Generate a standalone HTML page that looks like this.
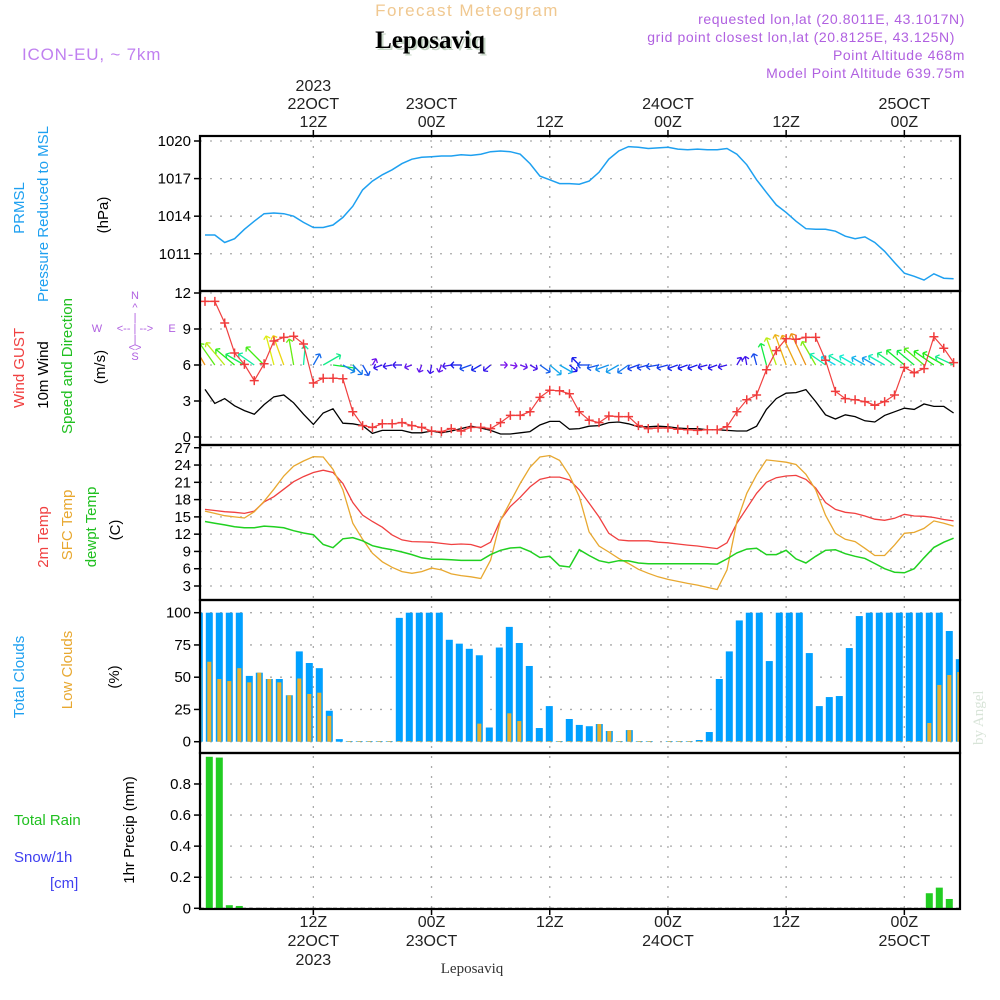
<!DOCTYPE html>
<html><head><meta charset="utf-8"><title>Forecast Meteogram - Leposaviq</title>
<style>
html,body{margin:0;padding:0;background:#fff;}
svg{display:block;}
text{font-family:"Liberation Sans",sans-serif;}
</style></head>
<body>
<svg id="chart" width="1000" height="1000" viewBox="0 0 1000 1000" xmlns="http://www.w3.org/2000/svg">
<rect x="0" y="0" width="1000" height="1000" fill="#fff"/>
<text x="467" y="16" text-anchor="middle" font-size="17" fill="#f0c890" letter-spacing="1.5">Forecast Meteogram</text>
<text x="432" y="50" text-anchor="middle" font-size="25" font-weight="bold" fill="#c8d8c8" style="font-family:'Liberation Serif',serif">Leposaviq</text>
<text x="430" y="48" text-anchor="middle" font-size="25" font-weight="bold" fill="#000" style="font-family:'Liberation Serif',serif">Leposaviq</text>
<text x="22" y="60" font-size="17" fill="#c080f0" letter-spacing="0.8">ICON-EU, ~ 7km</text>
<g font-size="14" fill="#b060e0" text-anchor="end" letter-spacing="0.6">
<text x="965" y="24">requested lon,lat (20.8011E, 43.1017N)</text>
<text x="955" y="42">grid point closest lon,lat (20.8125E, 43.125N)</text>
<text x="965" y="60">Point Altitude 468m</text>
<text x="965" y="78">Model Point Altitude 639.75m</text>
</g>
<g id="plot"></g>
<g id="labels"></g>
<text transform="translate(983,745) rotate(-90)" font-size="15" fill="#d8e4d8" style="font-family:'Liberation Serif',serif">by Angel</text>
<text x="472" y="973" text-anchor="middle" font-size="15" fill="#333" style="font-family:'Liberation Serif',serif">Leposaviq</text>
</svg>
<script>
const hours = Array.from({length:77},(_,i)=>i+1);
const pressure = [1012.5,1012.5,1011.9,1012.2,1012.95,1013.6,1014.2,1014.25,1014.2,1014.0,1013.5,1013.1,1013.1,1013.3,1013.9,1014.8,1016.1,1016.8,1017.3,1017.7,1018.2,1018.55,1018.7,1018.75,1018.8,1018.8,1018.9,1018.85,1018.95,1019.15,1019.2,1019.15,1018.95,1018.2,1017.2,1016.9,1016.6,1016.6,1016.55,1016.8,1017.5,1018.55,1019.2,1019.55,1019.5,1019.4,1019.45,1019.5,1019.35,1019.3,1019.35,1019.3,1019.3,1019.4,1018.95,1018.1,1016.9,1015.9,1014.9,1014.3,1013.6,1013.0,1012.95,1012.95,1012.8,1012.4,1012.2,1012.35,1011.9,1011.2,1010.3,1009.45,1009.2,1008.9,1009.4,1009.05,1009.0];
const gust = [11.3,11.3,9.5,7.0,6.05,4.7,6.1,8.0,8.3,8.4,7.75,4.5,4.9,4.9,4.85,2.1,0.95,0.8,1.1,1.1,1.2,0.95,0.8,0.5,0.45,0.7,0.5,0.8,0.8,0.7,1.2,1.8,1.8,2.1,3.3,3.9,3.85,3.6,2.1,1.4,1.2,1.75,1.7,1.7,0.95,0.7,0.75,0.75,0.65,0.6,0.55,0.6,0.6,0.85,2.1,3.1,3.5,5.6,7.2,8.2,8.15,8.3,8.3,6.4,3.8,3.2,3.1,2.95,2.65,2.95,3.5,5.8,5.35,5.7,8.35,7.4,6.2];
const wind = [3.97,2.8,3.2,2.6,2.2,1.9,2.7,3.35,3.5,2.85,1.9,1.05,2.0,2.35,1.15,1.1,0.95,0.3,0.55,0.55,0.55,0.35,0.35,0.5,0.35,0.5,0.7,0.9,0.75,0.55,0.25,0.25,0.35,0.45,1.0,1.3,1.3,0.65,0.7,0.9,0.95,1.2,1.25,1.1,0.85,0.85,0.9,0.85,0.75,0.7,0.7,0.6,0.6,0.55,0.5,0.5,0.9,2.3,3.2,3.65,3.7,3.95,2.95,1.85,1.5,1.85,1.7,1.35,1.25,1.8,2.1,2.4,2.3,2.75,2.55,2.55,2.0];
const windDir = [120,125,130,140,150,145,135,105,110,100,85,60,30,-8,-30,-45,-60,60,200,190,180,200,250,260,250,190,180,200,210,220,0,-10,-20,-30,-35,-40,-30,-40,135,180,195,200,210,215,200,195,190,195,200,200,200,195,200,195,60,100,105,105,110,110,115,115,120,145,150,150,150,150,150,150,145,140,140,140,145,150,155];
const temp2m = [16.3,16.1,15.9,15.8,15.6,16.0,17.6,18.5,19.8,21.1,22.0,22.7,23.1,22.7,20.8,17.5,15.3,14.2,13.2,11.85,11.0,10.7,10.65,10.6,10.4,10.2,10.3,10.2,9.7,10.6,14.45,16.8,18.4,20.2,21.5,21.9,21.9,21.4,19.7,17.4,15.0,12.15,11.0,10.85,10.85,10.85,10.6,10.5,10.3,10.1,9.95,9.7,9.5,10.5,13.9,16.5,19.1,21.0,21.8,22.1,22.2,21.5,20.0,17.5,16.3,15.8,15.6,15.15,14.6,14.4,14.75,15.45,15.15,15.1,14.9,14.55,14.3];
const tempSfc = [16.0,15.6,15.2,15.0,14.8,15.9,17.7,19.8,22.1,23.8,24.7,25.45,25.4,23.25,19.7,13.9,11.1,8.7,7.2,6.25,5.5,5.2,5.5,6.1,5.8,5.1,4.8,4.6,4.3,7.5,14.4,17.6,20.8,23.6,25.4,25.65,24.8,22.2,18.5,12.4,9.95,8.9,7.8,6.9,5.9,5.2,4.6,4.15,3.8,3.45,3.15,2.75,2.4,5.8,14.2,19.1,22.3,24.9,24.7,24.5,24.1,22.4,19.7,15.3,12.15,11.1,10.7,9.55,8.3,8.3,10.1,12.15,12.3,13.0,14.3,13.9,13.4];
const dewpt = [14.2,13.9,13.6,13.3,13.1,13.1,13.4,13.3,13.1,12.6,12.2,11.9,10.2,9.65,11.2,11.4,10.85,10.0,9.6,9.3,8.9,8.45,7.9,7.65,7.65,7.55,7.45,7.45,7.45,8.45,9.2,9.6,9.7,9.0,7.95,8.15,6.5,6.3,9.3,8.3,7.4,7.05,7.4,7.35,7.0,6.85,6.85,6.85,6.85,6.85,6.85,6.85,6.8,7.7,8.75,9.4,9.55,8.45,8.45,9.2,7.7,7.0,8.15,9.2,9.3,8.6,8.15,7.8,6.9,6.0,5.4,5.3,6.0,7.9,9.7,10.6,11.3];
const barHours = Array.from({length:77},(_,i)=>i);
const totalClouds = [100,100,100,100,100,51,53.5,48.6,48.6,36,70,61,57,24,2,0.5,0.5,0.5,0.5,0.5,96,100,100,100,100,79,76,72,67,11,73,89,76.5,58.7,10.6,27.6,0.5,17.6,13,12,13.7,8.3,0.5,9,0.5,0.5,0,0.5,0.5,0.5,1.3,7.5,48.6,70,94,100,100,62.5,100,100,100,68.7,27.6,34.6,35.4,72.6,97.4,100,100,100,100,100,100,100,100,85.8,64];
const lowClouds = [57,62,48.6,47,57,46,53.5,48.6,46,36,49,37,38,20,0,0.5,0.5,0.5,0.5,0.5,0.5,0.5,0.5,0.5,0.5,0.5,0.5,0.5,14,0.5,0.5,22,16,0.5,0.5,0.5,0.5,0.5,0.5,0.5,13.7,8.3,0.5,9,0.5,0.5,0,0.5,0.5,0.5,0.5,0.5,0.5,0.5,0.5,0.5,0.5,0.5,0.5,0.5,0.5,0.5,0.5,0.5,0.5,0.5,0.5,0.5,0.5,0.5,0.5,0.5,0.5,14.5,44,51.7,54];
const precip = [0,0.975,0.97,0.02,0.015,0,0,0,0,0,0,0,0,0,0,0,0,0,0,0,0,0,0,0,0,0,0,0,0,0,0,0,0,0,0,0,0,0,0,0,0,0,0,0,0,0,0,0,0,0,0,0,0,0,0,0,0,0,0,0,0,0,0,0,0,0,0,0,0,0,0,0,0,0.097,0.133,0.06,0];
const pressTicks = [1020,1017,1014,1011];
const windTicks = [0,3,6,9,12];
const tempTicks = [3,6,9,12,15,18,21,24,27];
const cloudTicks = [0,25,50,75,100];
const precipTicks = [0,0.2,0.4,0.6,0.8];
const precipTickLabels = ["0","0.2","0.4","0.6","0.8"];
const gridHours = [12,24,36,48,60,72];
const topTimeLabels = [["2023","22OCT","12Z"],["","23OCT","00Z"],["","","12Z"],["","24OCT","00Z"],["","","12Z"],["","25OCT","00Z"]];
const bottomTimeLabels = [["12Z","22OCT","2023"],["00Z","23OCT",""],["12Z","",""],["00Z","24OCT",""],["12Z","",""],["00Z","25OCT",""]];

const NS='http://www.w3.org/2000/svg';
const plot=document.getElementById('plot');
const X0=200,X1=960;
const xl=h=>205+(h-1)*9.85;
const xb=h=>199.3+h*10;
const yP=v=>141+(1020-v)*12.53;
const yW=v=>437-v*12;
const yT=v=>586-(v-3)*5.76;
const yC=v=>741.7-v*1.29;
const yR=v=>908.3-v*155.4;
const panels=[[136,291],[291,445],[445,600],[600,753],[753,909]];
function mk(tag,attrs,parent){const e=document.createElementNS(NS,tag);for(const k in attrs)e.setAttribute(k,attrs[k]);(parent||plot).appendChild(e);return e;}

const defs=mk('defs',{});
panels.forEach((p,i)=>{const cp=mk('clipPath',{id:'clip'+i},defs);mk('rect',{x:X0,y:p[0],width:X1-X0,height:p[1]-p[0]},cp);});

function hgrid(ticks,yf,name){ticks.forEach(t=>{const l=mk('line',{x1:X0,x2:X1,y1:yf(t),y2:yf(t),stroke:'#aaa','stroke-width':1.3,'stroke-dasharray':'2,8'});


const tk=mk('line',{x1:X0-6,x2:X0,y1:yf(t),y2:yf(t),stroke:'#000','stroke-width':1.5});

});}
hgrid(pressTicks,yP,'pressure-gridline');
hgrid(windTicks,yW,'wind-gridline');
hgrid(tempTicks,yT,'temp-gridline');
hgrid(cloudTicks,yC,'cloud-gridline');
hgrid(precipTicks,yR,'precip-gridline');
gridHours.forEach(h=>{const l=mk('line',{x1:xl(h),x2:xl(h),y1:136,y2:909,stroke:'#aaa','stroke-width':1.3,'stroke-dasharray':'2,8'});


const t=mk('line',{x1:xl(h),x2:xl(h),y1:130,y2:136,stroke:'#000','stroke-width':1.5});


const b=mk('line',{x1:xl(h),x2:xl(h),y1:909,y2:915,stroke:'#000','stroke-width':1.5});

});

function line(vals,xf,yf,color,name,clip,w){const pts=vals.map((v,i)=>xf(hours[i]).toFixed(1)+','+yf(v).toFixed(1)).join(' ');
const e=mk('polyline',{points:pts,fill:'none',stroke:color,'stroke-width':w||1.3,'clip-path':'url(#clip'+clip+')'});

return e;}

line(pressure,xl,yP,'#1ea0f0','pressure-line',0,1.5);
windDir.forEach((d,i)=>{const sp=wind[i];const L=5+sp*7.5;const a=d*Math.PI/180;const x0=xl(hours[i]),y0=yW(6);
const x1=x0+L*Math.cos(a),y1=y0-L*Math.sin(a);const hue=Math.max(35,285-sp*66);const col='hsl('+hue+',85%,50%)';
const g=mk('g',{stroke:col,'stroke-width':1.3,fill:'none','clip-path':'url(#clip1)'});


mk('line',{x1:x0,y1:y0,x2:x1,y2:y1},g);
const hl=4.5;[2.6,-2.6].forEach(o=>{const b=a+Math.PI+o*0.2;mk('line',{x1:x1,y1:y1,x2:x1+hl*Math.cos(b+(o>0?0.3:-0.3)),y2:y1-hl*Math.sin(b+(o>0?0.3:-0.3))},g);});});
line(wind,xl,yW,'#000','wind-speed-line',1,1.3);
line(gust,xl,yW,'#f04040','wind-gust-line',1,1.2);
gust.forEach((v,i)=>{const x=xl(hours[i]),y=yW(v);const p=mk('path',{d:`M${x-4.5},${y}H${x+4.5}M${x},${y-4.5}V${y+4.5}`,stroke:'#f03c3c','stroke-width':1.5,'clip-path':'url(#clip1)'});

});
line(temp2m,xl,yT,'#f04040','temp-2m-line',2,1.3);
line(tempSfc,xl,yT,'#e8a830','temp-sfc-line',2,1.3);
line(dewpt,xl,yT,'#20d020','dewpoint-line',2,1.5);
totalClouds.forEach((v,i)=>{const x=xb(barHours[i]);const r=mk('rect',{x:x-3.5,y:yC(v),width:7,height:yC(0)-yC(v),fill:'#00a0ff','clip-path':'url(#clip3)'});

});
lowClouds.forEach((v,i)=>{const x=xb(barHours[i]);const r=mk('rect',{x:x-2,y:yC(v),width:4,height:yC(0)-yC(v),fill:'#e8b030','clip-path':'url(#clip3)'});

});
const zl=mk('line',{x1:X0,x2:X1,y1:yR(0),y2:yR(0),stroke:'#444','stroke-width':1.2,'stroke-dasharray':'4,3'});


precip.forEach((v,i)=>{if(v<=0)return;const x=xb(barHours[i]);const r=mk('rect',{x:x-3.5,y:yR(v),width:7,height:yR(0)-yR(v),fill:'#22cc22','clip-path':'url(#clip4)'});

});
panels.forEach((p,i)=>{const r=mk('rect',{x:X0,y:p[0],width:X1-X0,height:p[1]-p[0],fill:'none',stroke:'#000','stroke-width':2.2});

});

const lab=document.getElementById('labels');
function txt(s,x,y,attrs,name){const e=mk('text',Object.assign({x:x,y:y},attrs||{}),lab);e.textContent=s;

return e;}
const tl={'text-anchor':'end','font-size':15,fill:'#000'};
pressTicks.forEach(t=>txt(String(t),191,yP(t)+5,tl,'pressure-tick-label'));
windTicks.forEach(t=>txt(String(t),191,yW(t)+5,tl,'wind-tick-label'));
tempTicks.forEach(t=>txt(String(t),191,yT(t)+5,tl,'temp-tick-label'));
cloudTicks.forEach(t=>txt(String(t),191,yC(t)+5,tl,'cloud-tick-label'));
precipTicks.forEach((t,i)=>txt(precipTickLabels[i],191,yR(t)+5,tl,'precip-tick-label'));
gridHours.forEach((h,i)=>{const x=xl(h);topTimeLabels[i].forEach((s,j)=>{if(s)txt(s,x,91+j*18,{'text-anchor':'middle','font-size':16,fill:'#222'},'top-time-label');});
bottomTimeLabels[i].forEach((s,j)=>{if(s)txt(s,x,927+j*19,{'text-anchor':'middle','font-size':16,fill:'#222'},'bottom-time-label');});});

function rot(s,x,y,color,size,name){const e=mk('text',{transform:`translate(${x},${y}) rotate(-90)`,'text-anchor':'middle','font-size':size||15,fill:color},lab);e.textContent=s;

}
rot('PRMSL',24,208,'#1ea0f0',15,'prmsl-label');
rot('Pressure Reduced to MSL',48,214,'#1ea0f0',15,'pressure-axis-title');
rot('(hPa)',108,215,'#000',15,'pressure-unit');
rot('Wind GUST',24,368,'#f04040',15,'gust-axis-title');
rot('10m Wind',48,375,'#000',15,'wind-axis-title');
rot('Speed and Direction',72,366,'#20c020',15,'wind-direction-title');
rot('(m/s)',105,367,'#000',15,'wind-unit');
rot('2m Temp',48,537,'#f04040',15,'temp-2m-title');
rot('SFC Temp',72,525,'#e8a830',15,'temp-sfc-title');
rot('dewpt Temp',96,527,'#20c020',15,'dewpoint-title');
rot('(C)',120,530,'#000',15,'temp-unit');
rot('Total Clouds',24,677,'#1ea0f0',15,'total-clouds-title');
rot('Low Clouds',72,670,'#e8a830',15,'low-clouds-title');
rot('(%)',119,677,'#000',15,'cloud-unit');
rot('1hr Precip (mm)',134,830,'#000',15,'precip-axis-title');
txt('Total  Rain',14,825,{'font-size':15,fill:'#20c020'},'rain-label');
txt('Snow/1h',14,862,{'font-size':15,fill:'#4040f0'},'snow-label');
txt('[cm]',50,888,{'font-size':15,fill:'#4040f0'},'snow-unit');
const cg={'font-size':11,fill:'#b060e0','text-anchor':'middle'};
txt('N',135,299,cg,'compass-n');
txt('^',135,311,cg,'compass-up');
txt('|',135,321,cg,'compass-bar');
txt('W',97,332,cg,'compass-w');
txt('<-- | -->',135,332,cg,'compass-ew');
txt('E',172,332,cg,'compass-e');
txt('|',135,343,cg,'compass-bar2');
txt('<>',135,351,cg,'compass-down');
txt('S',135,360,cg,'compass-s');
</script>
</body></html>
